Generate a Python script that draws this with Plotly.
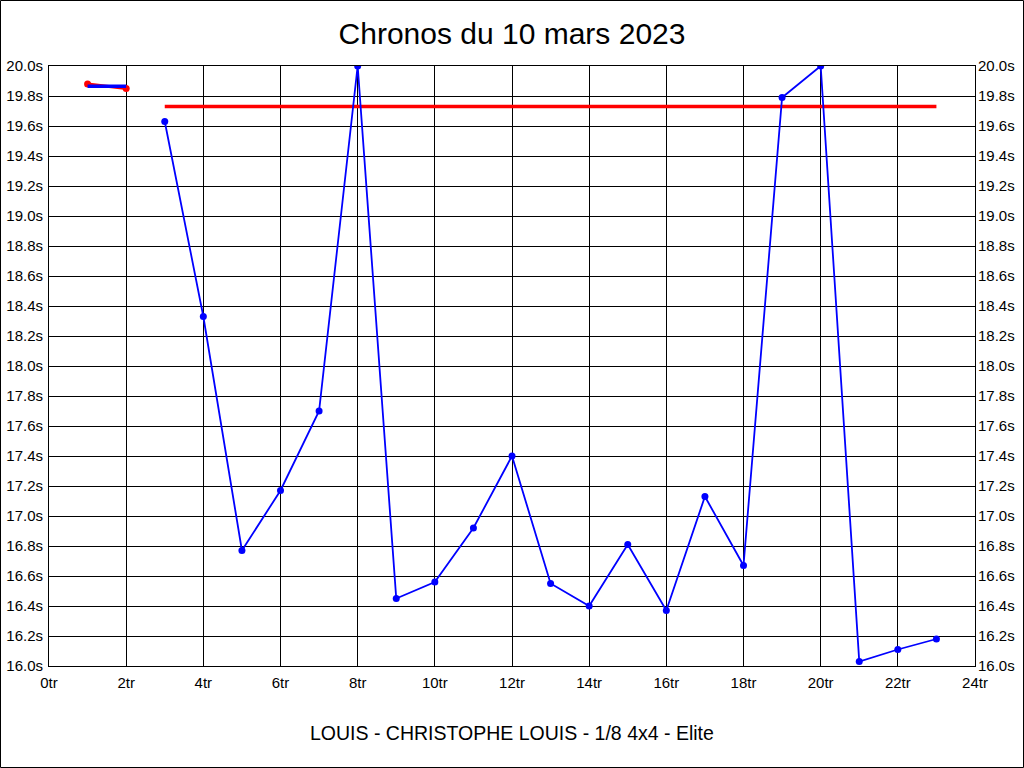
import plotly.graph_objects as go

laps_red = [1, 2]
times_red = [19.88, 19.85]
laps_blue = list(range(3, 24))
times_blue = [19.63, 18.33, 16.77, 17.17, 17.70, 20.00, 16.45, 16.56, 16.92, 17.40,
              16.55, 16.40, 16.81, 16.37, 17.13, 16.67, 19.79, 20.00, 16.03, 16.11, 16.18]
avg_red_x = [1, 2]
avg_red_y = [19.865, 19.865]
avg_blue_x = [3, 23]
avg_blue_y = [19.73, 19.73]

x_ticks = list(range(0, 25, 2))
x_labels = [f"{v}tr" for v in x_ticks]
y_ticks = [round(16 + 0.2 * i, 1) for i in range(21)]
y_labels = [f"{v:.1f}s" for v in y_ticks]

title = "Chronos du 10 mars 2023"
subtitle = "LOUIS - CHRISTOPHE LOUIS - 1/8 4x4 - Elite"

BLUE = "#0000FF"
RED = "#FF0000"
FONT = "Liberation Sans, Arial, sans-serif"

fig = go.Figure()
fig.add_trace(go.Scatter(x=laps_red, y=times_red, mode="lines+markers",
                         line=dict(color=RED, width=3), marker=dict(color=RED, size=7),
                         showlegend=False))
fig.add_trace(go.Scatter(x=avg_red_x, y=avg_red_y, mode="lines",
                         line=dict(color=BLUE, width=3.5), showlegend=False))
fig.add_trace(go.Scatter(x=avg_blue_x, y=avg_blue_y, mode="lines",
                         line=dict(color=RED, width=3.5), showlegend=False))
fig.add_trace(go.Scatter(x=laps_blue, y=times_blue, mode="lines+markers",
                         line=dict(color=BLUE, width=1.8), marker=dict(color=BLUE, size=7),
                         showlegend=False))
fig.add_trace(go.Scatter(x=[0], y=[16], yaxis="y2", mode="markers",
                         marker=dict(opacity=0), showlegend=False, hoverinfo="skip"))

W, H = 1024, 768
L, R, T, B = 49, 49, 66, 102
pw, ph = W - L - R, H - T - B

axis_common = dict(showgrid=True, gridcolor="black", gridwidth=1, zeroline=False,
                   showline=True, linecolor="black", linewidth=1, mirror=True,
                   automargin=False,
                   tickfont=dict(family=FONT, size=15, color="black"), ticks="")

fig.update_layout(
    width=W, height=H,
    margin=dict(l=L, r=R, t=T, b=B, autoexpand=False),
    paper_bgcolor="white", plot_bgcolor="white",
    title=dict(text=title, x=0.5, xanchor="center", y=1 - 33 / H, yanchor="middle",
               font=dict(family=FONT, size=30, color="black")),
    xaxis=dict(range=[0, 24], tickvals=x_ticks, ticktext=x_labels,
               ticklabelstandoff=3, **axis_common),
    yaxis=dict(range=[16, 20], tickvals=y_ticks, ticktext=y_labels,
               ticklabelstandoff=2, **axis_common),
    yaxis2=dict(range=[16, 20], tickvals=y_ticks, ticktext=y_labels, overlaying="y",
                side="right", showgrid=False, zeroline=False, showline=False,
                ticklabelstandoff=2, automargin=False,
                tickfont=dict(family=FONT, size=15, color="black"), ticks=""),
    annotations=[dict(text=subtitle, x=0.5, xref="paper", y=(T + ph - 733) / ph, yref="paper",
                      xanchor="center", yanchor="middle", showarrow=False,
                      font=dict(family=FONT, size=19.5, color="black"))],
    shapes=[dict(type="rect", xref="paper", yref="paper",
                 x0=(0.5 - L) / pw, x1=(W - 0.5 - L) / pw,
                 y0=(T + ph - (H - 0.5)) / ph, y1=(T + ph - 0.5) / ph,
                 line=dict(color="black", width=1), fillcolor="rgba(0,0,0,0)", layer="above")],
)

fig.write_html("out.html", config={"displayModeBar": False},
               post_script="document.body.style.margin='0';document.body.style.padding='0';"
                           "document.body.style.overflow='hidden';")
